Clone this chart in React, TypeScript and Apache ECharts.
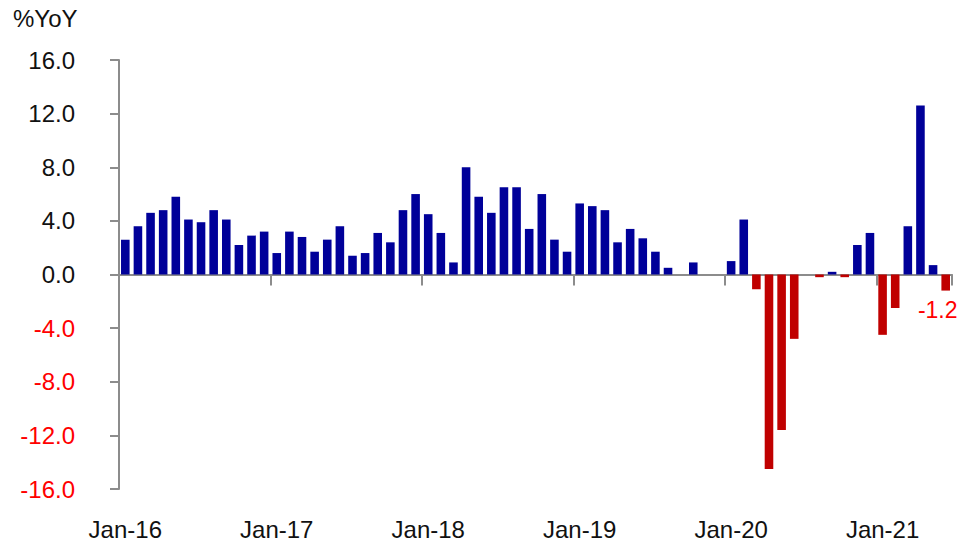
import React, { useEffect, useRef } from "react";
import * as echarts from "echarts";

const MONTHS = ["Jan", "Feb", "Mar", "Apr", "May", "Jun", "Jul", "Aug", "Sep", "Oct", "Nov", "Dec"];
const YEARS = ["16", "17", "18", "19", "20", "21"];
const categories: string[] = [];
YEARS.forEach((y) => MONTHS.forEach((m) => categories.push(`${m}-${y}`)));
categories.length = 66; // Jan-16 .. Jun-21

const values: number[] = [
  2.6, 3.6, 4.6, 4.8, 5.8, 4.1, 3.9, 4.8, 4.1, 2.2, 2.9, 3.2,
  1.6, 3.2, 2.8, 1.7, 2.6, 3.6, 1.4, 1.6, 3.1, 2.4, 4.8, 6.0,
  4.5, 3.1, 0.9, 8.0, 5.8, 4.6, 6.5, 6.5, 3.4, 6.0, 2.6, 1.7,
  5.3, 5.1, 4.8, 2.4, 3.4, 2.7, 1.7, 0.5, 0, 0.9, 0, 0,
  1.0, 4.1, -1.1, -14.5, -11.6, -4.8, 0, -0.2, 0.2, -0.2, 2.2, 3.1,
  -4.5, -2.5, 3.6, 12.6, 0.7, -1.2,
];

const yTicks = { min: -16, max: 16, interval: 4 };
const unitLabel = "%YoY";

const BLUE = "#000099";
const RED = "#C00000";
const LABEL_RED = "#FF0000";
const AXIS_GRAY = "#8C8C8C";
const FONT = "Liberation Sans, Arial, sans-serif";

export default function App() {
  const ref = useRef<HTMLDivElement>(null);
  useEffect(() => {
    if (!ref.current) return;
    const chart = echarts.init(ref.current, undefined, { renderer: "svg" });
    const lastIdx = values.length - 1;
    const seriesData = values.map((v, i) =>
      i === lastIdx
        ? {
            value: v,
            label: {
              show: true,
              position: "bottom",
              distance: 8,
              offset: [-8, 0],
              color: LABEL_RED,
              fontSize: 23,
              fontFamily: FONT,
              formatter: (p: any) => String(p.value),
            },
          }
        : v
    );
    chart.setOption({
      animation: false,
      title: {
        text: unitLabel,
        left: 13,
        top: 6,
        padding: 0,
        textStyle: { fontSize: 24, fontWeight: "normal", color: "#111", fontFamily: FONT },
      },
      grid: { left: 119, right: 12, top: 60, bottom: 57, containLabel: false, outerBoundsMode: "none" },
      xAxis: {
        type: "category",
        data: categories,
        boundaryGap: true,
        axisLine: { onZero: true, lineStyle: { color: AXIS_GRAY, width: 2 } },
        axisTick: { show: true, interval: 11, length: 11, lineStyle: { color: AXIS_GRAY, width: 2 } },
        axisLabel: {
          interval: 11,
          margin: 28,
          fontSize: 24,
          color: "#111",
          fontFamily: FONT,
        },
        splitLine: { show: false },
      },
      yAxis: {
        type: "value",
        min: yTicks.min,
        max: yTicks.max,
        interval: yTicks.interval,
        axisLine: { show: true, lineStyle: { color: AXIS_GRAY, width: 2 } },
        axisTick: { show: true, length: 9, lineStyle: { color: AXIS_GRAY, width: 2 } },
        splitLine: { show: false },
        axisLabel: {
          margin: 44,
          fontSize: 24,
          fontFamily: FONT,
          formatter: (v: number) => v.toFixed(1),
          color: (v: any) => (Number(v) < 0 ? LABEL_RED : "#111"),
        },
      },
      series: [
        {
          type: "bar",
          data: seriesData,
          barWidth: "68%",
          itemStyle: {
            color: (p: any) => (Number(p.value) < 0 ? RED : BLUE),
          },
        },
      ],
    });
    return () => chart.dispose();
  }, []);
  return (
    <div
      ref={ref}
      style={{ position: "fixed", left: 0, top: 0, width: 964, height: 546, background: "#fff" }}
    />
  );
}
